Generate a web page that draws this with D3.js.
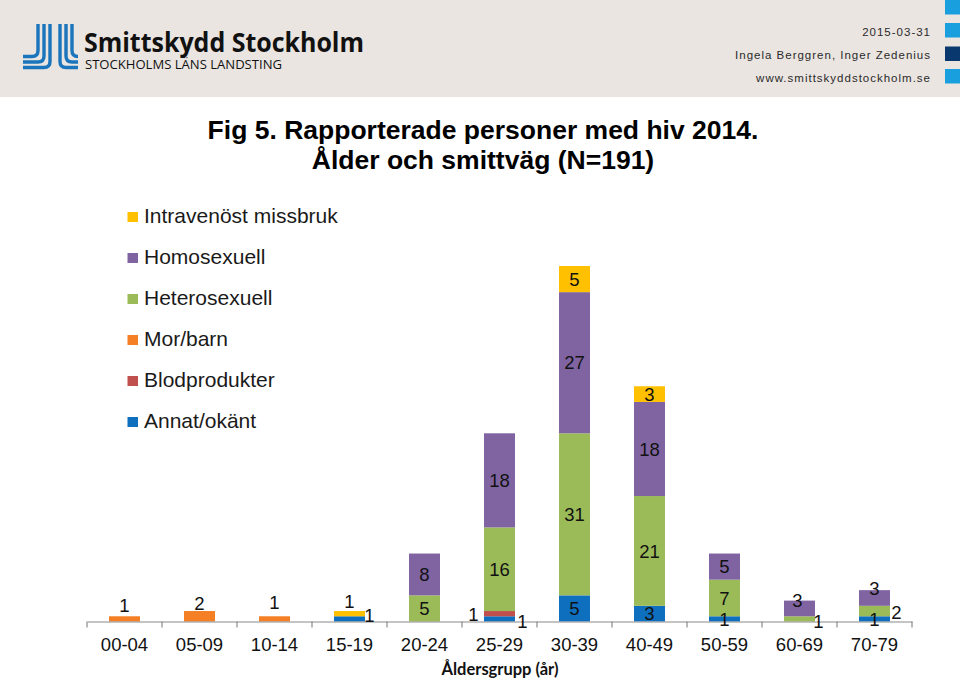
<!DOCTYPE html>
<html>
<head>
<meta charset="utf-8">
<script src="https://cdn.jsdelivr.net/npm/d3@7"></script>
<style>
  html, body { margin: 0; padding: 0; background: #fff; }
  svg { display: block; }
</style>
</head>
<body>
<div id="chart"></div>
<script>
// ---- Data ----
const categories = ["00-04","05-09","10-14","15-19","20-24","25-29","30-39","40-49","50-59","60-69","70-79"];
const seriesNames = ["Annat/okänt","Blodprodukter","Mor/barn","Heterosexuell","Homosexuell","Intravenöst missbruk"];
const annat   = [0,0,0,1,0,1,5,3,1,0,1];
const blod    = [0,0,0,0,0,1,0,0,0,0,0];
const morBarn = [1,2,1,0,0,0,0,0,0,0,0];
const hetero  = [0,0,0,0,5,16,31,21,7,1,2];
const homo    = [0,0,0,0,8,18,27,18,5,3,3];
const ivdu    = [0,0,0,1,0,0,5,3,0,0,0];
const seriesValues = [annat, blod, morBarn, hetero, homo, ivdu];
const titleLines = ["Fig 5. Rapporterade personer med hiv 2014.", "Ålder och smittväg (N=191)"];
const xAxisTitle = "Åldersgrupp (år)";

// ---- Styles ----
const colors = {
  "Annat/okänt": "#0F6FBF",
  "Blodprodukter": "#C0504D",
  "Mor/barn": "#F47F24",
  "Heterosexuell": "#9BBB59",
  "Homosexuell": "#8064A2",
  "Intravenöst missbruk": "#FFC000"
};
// manual label nudges (px), as placed in the original
const labelNudge = {
  "00-04|Mor/barn": [0,-14],
  "05-09|Mor/barn": [0,-12.5],
  "10-14|Mor/barn": [0,-17],
  "15-19|Intravenöst missbruk": [0,-12],
  "15-19|Annat/okänt": [20,-4],
  "25-29|Blodprodukter": [-26,1],
  "25-29|Annat/okänt": [23,2],
  "60-69|Heterosexuell": [19,2],
  "60-69|Homosexuell": [-2,-8],
  "70-79|Heterosexuell": [22,1],
  "70-79|Homosexuell": [0,-10]
};

const W = 960, H = 681;
const svg = d3.select("#chart").append("svg").attr("width", W).attr("height", H);

// ---- Header ----
svg.append("rect").attr("x",0).attr("y",0).attr("width",W).attr("height",97).attr("fill","#EAE5E1");
// right colour squares
const sq = [[0,"#1A9FDE"],[23,"#1A9FDE"],[46.5,"#08386E"],[69,"#1A9FDE"]];
svg.selectAll("rect.sq").data(sq).enter().append("rect")
  .attr("x",945).attr("y",d=>d[0]).attr("width",20).attr("height",14.5).attr("fill",d=>d[1]);

// logo mark
const logo = svg.append("g").attr("fill","none").attr("stroke","#1B75BC").attr("stroke-width",3.4);
const lp = [
  [38, 56.5], [44, 62], [50, 67.5]
];
lp.forEach(([x, yb]) => {
  logo.append("path").attr("d", `M${x},24 V${yb-6} Q${x},${yb} ${x-6},${yb} H23`);
});
const rp = [
  [72, 56.5], [66, 62], [60, 67.5]
];
rp.forEach(([x, yb]) => {
  logo.append("path").attr("d", `M${x},24 V${yb-6} Q${x},${yb} ${x+6},${yb} H78`);
});

svg.append("text").attr("x",84).attr("y",52)
  .attr("font-family","'Open Sans', sans-serif").attr("font-weight",700).attr("font-size",26)
  .attr("textLength",280).attr("lengthAdjust","spacingAndGlyphs")
  .attr("fill","#111").text("Smittskydd Stockholm");
svg.append("text").attr("x",85).attr("y",69)
  .attr("font-family","'Open Sans', sans-serif").attr("font-size",12.5)
  .attr("textLength",197).attr("lengthAdjust","spacingAndGlyphs")
  .attr("fill","#111").text("STOCKHOLMS LÄNS LANDSTING");

const hdr = ["2015-03-31","Ingela Berggren, Inger Zedenius","www.smittskyddstockholm.se"];
svg.selectAll("text.hdr").data(hdr).enter().append("text")
  .attr("x",931).attr("y",(d,i)=>35.5+i*23)
  .attr("text-anchor","end")
  .attr("font-family","'Liberation Sans', Arial, sans-serif").attr("font-size",11.5)
  .attr("letter-spacing","1px").attr("fill","#2a2a2a").text(d=>d);

// ---- Title ----
svg.selectAll("text.title").data(titleLines).enter().append("text")
  .attr("x",483).attr("y",(d,i)=>139+i*30)
  .attr("text-anchor","middle")
  .attr("font-family","'Liberation Sans', Arial, sans-serif").attr("font-weight",700).attr("font-size",26.5)
  .attr("fill","#000").text(d=>d);

// ---- Scales ----
const x = d3.scaleBand().domain(categories).range([87, 912]).paddingInner(0.587).paddingOuter(0.2935);
const y = d3.scaleLinear().domain([0, 68]).range([621.5, 266]);

const table = categories.map((c, i) => {
  const row = { cat: c };
  seriesNames.forEach((s, k) => row[s] = seriesValues[k][i]);
  return row;
});
const stack = d3.stack().keys(seriesNames)(table);

// bars
const layers = svg.append("g").selectAll("g").data(stack).enter().append("g")
  .attr("fill", d => colors[d.key]);
layers.selectAll("rect").data(d => d.filter(p => p[1] - p[0] > 0)).enter().append("rect")
  .attr("x", d => x(d.data.cat))
  .attr("width", x.bandwidth())
  .attr("y", d => y(d[1]))
  .attr("height", d => y(d[0]) - y(d[1]));

// axis
const axis = d3.axisBottom(x).tickSize(0).tickPadding(16);
const gx = svg.append("g").attr("transform","translate(0,621.5)").call(axis);
gx.select(".domain").attr("stroke","#8a8a8a").attr("stroke-width",1.2);
gx.selectAll(".tick text")
  .attr("font-family","'Liberation Sans', Arial, sans-serif").attr("font-size",18.5).attr("fill","#111");
gx.selectAll(".tick line").remove();
// tick marks between categories
const bounds = categories.map(c => x(c) - (x.step() - x.bandwidth())/2).concat([912]);
gx.selectAll("line.sep").data(bounds).enter().append("line")
  .attr("x1", d => d).attr("x2", d => d).attr("y1", 0).attr("y2", 6)
  .attr("stroke","#8a8a8a").attr("stroke-width",1.2);

svg.append("text").attr("x",500).attr("y",675).attr("text-anchor","middle")
  .attr("font-family","Lato, 'Open Sans', sans-serif").attr("font-weight",700).attr("font-size",16.5)
  .attr("fill","#111").text(xAxisTitle);

// data labels
const labels = [];
stack.forEach(layer => {
  layer.forEach(p => {
    const v = p[1] - p[0];
    if (v > 0) {
      const key = p.data.cat + "|" + layer.key;
      const n = labelNudge[key] || [0,0];
      labels.push({
        v,
        x: x(p.data.cat) + x.bandwidth()/2 + n[0],
        y: (y(p[0]) + y(p[1]))/2 + n[1]
      });
    }
  });
});
svg.append("g").selectAll("text").data(labels).enter().append("text")
  .attr("x", d => d.x).attr("y", d => d.y).attr("dy","0.36em")
  .attr("text-anchor","middle")
  .attr("font-family","'Liberation Sans', Arial, sans-serif").attr("font-size",18.5).attr("fill","#111")
  .text(d => d.v);

// legend (top to bottom: reverse stack order)
const legendItems = seriesNames.slice().reverse();
const lg = svg.append("g").selectAll("g").data(legendItems).enter().append("g")
  .attr("transform", (d,i) => `translate(0,${i*41})`);
lg.append("rect").attr("x",127.5).attr("y",212).attr("width",10.5).attr("height",10)
  .attr("fill", d => colors[d]);
lg.append("text").attr("x",144).attr("y",223)
  .attr("font-family","'Liberation Sans', Arial, sans-serif").attr("font-size",21).attr("fill","#1a1a1a")
  .text(d => d);
</script>
</body>
</html>
